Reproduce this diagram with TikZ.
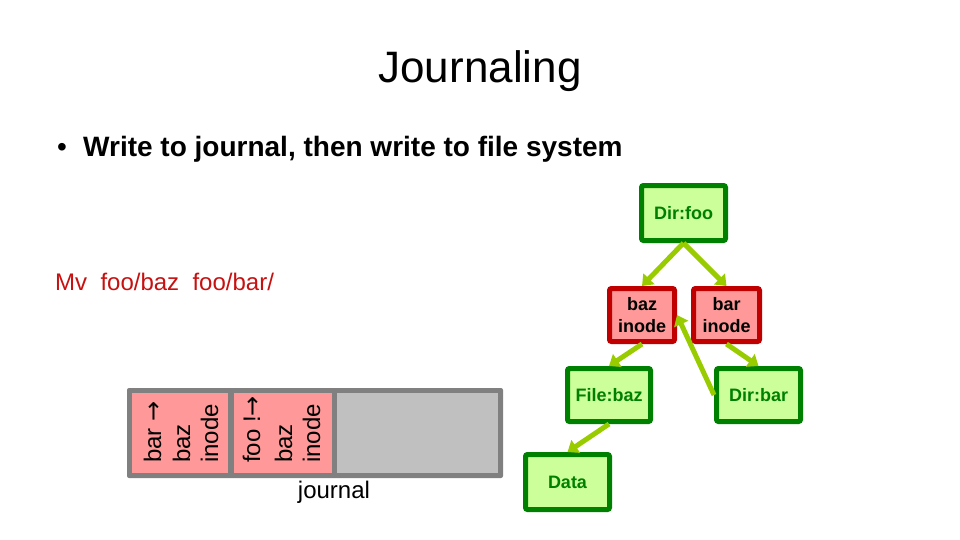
\documentclass[tikz,border=0pt]{standalone}
\usepackage{fontspec}
\setmainfont{Liberation Sans}
\newfontfamily\arrowfont{DejaVu Sans}
\usetikzlibrary{arrows.meta}
\definecolor{dkgreen}{RGB}{0,128,0}
\definecolor{ltgreen}{RGB}{204,255,153}
\definecolor{argreen}{RGB}{153,204,0}
\definecolor{dkred}{RGB}{192,0,0}
\definecolor{pinkred}{RGB}{255,153,153}
\definecolor{jgray}{RGB}{128,128,128}
\definecolor{jlgray}{RGB}{192,192,192}
\definecolor{mvred}{RGB}{200,16,16}
\newcommand{\rarr}{{\arrowfont →}}
\tikzset{
  gbox/.style={draw=dkgreen, fill=ltgreen, line width=5pt, rounded corners=2pt,
    inner sep=0pt, text=dkgreen, font=\fontsize{18}{21.6}\selectfont\bfseries, align=center},
  rbox/.style={draw=dkred, fill=pinkred, line width=5pt, rounded corners=2pt,
    inner sep=0pt, text=black, font=\fontsize{18}{21.6}\selectfont\bfseries, align=center},
  tarrow/.style={draw=argreen, line width=5pt, -{Triangle[width=15pt,length=10pt]}},
  celltext/.style={rotate=90, anchor=base west, inner sep=0pt, font=\fontsize{24}{28}\selectfont},
}
\begin{document}
\begin{tikzpicture}[x=1pt,y=-1pt]
\useasboundingbox (0,0) rectangle (960,540);
% title and text
\node[anchor=base, inner sep=0pt, font=\fontsize{44}{50}\selectfont] (title) at (480,83) {Journaling};
\node[anchor=base, inner sep=0pt, font=\fontsize{28}{32}\selectfont] (bullet) at (62,157) {•};
\node[anchor=base west, inner sep=0pt, font=\fontsize{28}{32}\selectfont\bfseries] (btext) at (83,157) {Write to journal, then write to file system};
\node[anchor=base west, inner sep=0pt, text=mvred, font=\fontsize{24}{28}\selectfont] (mv) at (55,290) {Mv\ \ foo/baz\ \ foo/bar/};
% journal
\fill[jgray, rounded corners=2pt] (127,388) rectangle (503,478);
\fill[pinkred] (132,393) rectangle (228,473);
\fill[pinkred] (234,393) rectangle (332,473);
\fill[jlgray] (337,393) rectangle (498,473);
\node[celltext] (c1a) at (161,463) {bar \rarr};
\node[celltext] (c1b) at (190,463) {baz};
\node[celltext] (c1c) at (218,463) {inode};
\node[celltext] (c2a) at (260,463) {foo !\rarr};
\node[celltext] (c2b) at (292,463) {baz};
\node[celltext] (c2c) at (320,463) {inode};
\node[anchor=base, inner sep=0pt, font=\fontsize{24}{28}\selectfont] (journal) at (334,498) {journal};
% tree
\node[gbox, minimum width=84pt, minimum height=55pt] (dirfoo) at (683.5,213) {Dir:foo};
\node[rbox, minimum width=65pt, minimum height=53pt] (bazinode) at (642,315) {baz\\inode};
\node[rbox, minimum width=66pt, minimum height=53pt] (barinode) at (726.5,315) {bar\\inode};
\node[gbox, minimum width=83pt, minimum height=53pt] (filebaz) at (609,395) {File:baz};
\node[gbox, minimum width=84pt, minimum height=53pt] (dirbar) at (758.5,395) {Dir:bar};
\node[gbox, minimum width=84pt, minimum height=55pt] (data) at (567.5,482) {Data};
% arrows
\draw[tarrow] (dirfoo.south) -- (bazinode.north);
\draw[tarrow] (dirfoo.south) -- (barinode.north);
\draw[tarrow] (bazinode.south) -- (filebaz.north);
\draw[tarrow] (barinode.south) -- (dirbar.north);
\draw[tarrow] (filebaz.south) -- (data.north);
\draw[tarrow] (dirbar.west) -- (bazinode.east);
\end{tikzpicture}
\end{document}
